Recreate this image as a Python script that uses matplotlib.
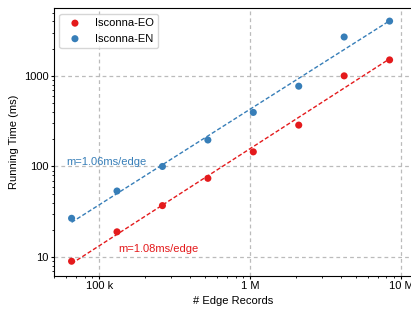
import matplotlib
matplotlib.use("Agg")
import matplotlib.pyplot as plt
import numpy as np
from matplotlib.ticker import FixedLocator, FuncFormatter, LogLocator, NullFormatter

plt.rcParams["font.family"] = ["Liberation Sans", "DejaVu Sans"]
plt.rcParams["font.size"] = 8

edges = [65536, 131072, 262144, 524288, 1048576, 2097152, 4194304, 8388608]
time_eo = [9.0, 19.0, 37.0, 74.0, 145.0, 286.0, 1000.0, 1500.0]
time_en = [26.8, 53.6, 100.0, 196.0, 395.0, 769.0, 2685.0, 4020.0]
series = [("Isconna-EO", time_eo, "#e41a1c", "m=1.08ms/edge"),
          ("Isconna-EN", time_en, "#377eb8", "m=1.06ms/edge")]
label_pos = {"Isconna-EO": (1.33e5, 12.3), "Isconna-EN": (6.0e4, 113)}

fig = plt.figure(figsize=(4.11, 3.10), dpi=100)
ax = fig.add_axes([0.131, 0.11, 0.874, 0.864])

x = np.array(edges, dtype=float)
for name, vals, color, label in series:
    y = np.array(vals)
    ax.scatter(x, y, s=26, color=color, label=name, zorder=3, edgecolors="none")
    k, b = np.polyfit(np.log10(x), np.log10(y), 1)
    ax.plot(x, 10 ** (k * np.log10(x) + b), color=color, linewidth=1.0,
            dashes=(3, 1.6), zorder=2)
    ax.text(*label_pos[name], label, color=color, fontsize=8, va="center")

ax.set_xscale("log")
ax.set_yscale("log")
ax.set_xlim(5e4, 1.2e7)
ax.set_ylim(6.2, 5600)
ax.xaxis.set_major_locator(FixedLocator([1e5, 1e6, 1e7]))
ax.xaxis.set_major_formatter(FuncFormatter(lambda v, p: {1e5: "100 k", 1e6: "1 M", 1e7: "10 M"}.get(v, "")))
ax.yaxis.set_major_locator(FixedLocator([10, 100, 1000]))
ax.yaxis.set_major_formatter(FuncFormatter(lambda v, p: f"{int(round(v))}"))
ax.xaxis.set_minor_locator(LogLocator(base=10, subs=np.arange(2, 10)))
ax.yaxis.set_minor_locator(LogLocator(base=10, subs=np.arange(2, 10)))
ax.xaxis.set_minor_formatter(NullFormatter())
ax.yaxis.set_minor_formatter(NullFormatter())
ax.tick_params(which="major", length=2.5, pad=1.5, width=0.8)
ax.tick_params(which="minor", length=1.5, width=0.6)
ax.grid(True, which="major", linestyle=(0, (3, 2.5)), color="#bbbbbb", linewidth=0.9)
ax.set_xlabel("# Edge Records", labelpad=3)
ax.set_ylabel("Running Time (ms)", labelpad=3)
ax.legend(loc="upper left", fontsize=8)

fig.savefig("out.png", dpi=100)
